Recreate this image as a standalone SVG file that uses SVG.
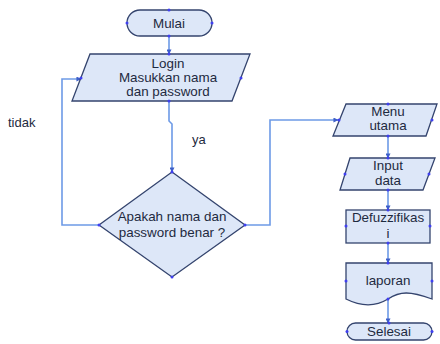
<svg xmlns="http://www.w3.org/2000/svg" width="440" height="344" viewBox="0 0 440 344">
<defs>
<style>
.shape{fill:#dde7f8;stroke:#34446e;stroke-width:1.3}
.conn{fill:none;stroke:#6d9ae6;stroke-width:1.6}
.t{font-family:"Liberation Sans",Arial,sans-serif;font-size:13.4px;fill:#1e2a40;text-anchor:middle}
.lbl{font-family:"Liberation Sans",Arial,sans-serif;font-size:13px;fill:#1e2a40}
.dot{fill:#3f3ff0}
</style>
<marker id="arr" viewBox="0 0 6 6" refX="5.5" refY="3" markerWidth="5" markerHeight="5" orient="auto" markerUnits="userSpaceOnUse">
<path d="M0,0 L6,3 L0,6 z" fill="#3d5fc8"/>
</marker>
</defs>
<rect width="440" height="344" fill="#ffffff"/>

<g id="connectors">
<path class="conn" d="M169,36 V54" marker-end="url(#arr)"/>
<path class="conn" d="M169,101 V121 L172,124 V172" marker-end="url(#arr)"/>
<path class="conn" d="M99,225 H62 V79 H81" marker-end="url(#arr)"/>
<path class="conn" d="M245,225 H270 V120 H338" marker-end="url(#arr)"/>
<path class="conn" d="M388,136 V158" marker-end="url(#arr)"/>
<path class="conn" d="M388,190 V210" marker-end="url(#arr)"/>
<path class="conn" d="M388,243 V263" marker-end="url(#arr)"/>
<path class="conn" d="M388,300 V323" marker-end="url(#arr)"/>
</g>

<g id="mulai">
<rect class="shape" x="127" y="10" width="85" height="26" rx="13"/>
<text class="t" x="169" y="27.5">Mulai</text>
<circle class="dot" cx="169" cy="10" r="1.5"/><circle class="dot" cx="169" cy="36" r="1.5"/>
<circle class="dot" cx="127" cy="23" r="1.5"/><circle class="dot" cx="212" cy="23" r="1.5"/>
</g>

<g id="login">
<polygon class="shape" points="90,54 250,54 232,101 72,101"/>
<text class="t" x="168" y="68">Login</text>
<text class="t" x="168" y="82">Masukkan nama</text>
<text class="t" x="168" y="96">dan password</text>
<circle class="dot" cx="169" cy="54" r="1.5"/><circle class="dot" cx="169" cy="101" r="1.5"/>
<circle class="dot" cx="81" cy="78" r="1.5"/><circle class="dot" cx="241" cy="78" r="1.5"/>
</g>

<g id="keputusan">
<polygon class="shape" points="172,172 245,225 172,277 99,225"/>
<text class="t" x="172" y="221">Apakah nama dan</text>
<text class="t" x="172" y="237">password benar ?</text>
<circle class="dot" cx="172" cy="172" r="1.5"/><circle class="dot" cx="172" cy="277" r="1.5"/>
<circle class="dot" cx="99" cy="225" r="1.5"/><circle class="dot" cx="245" cy="225" r="1.5"/>
</g>

<g id="label-tidak"><text class="lbl" x="8" y="127">tidak</text></g>
<g id="label-ya"><text class="lbl" x="192" y="144">ya</text></g>

<g id="menu">
<polygon class="shape" points="346,104 437,104 426,136 333,136"/>
<text class="t" x="388" y="116">Menu</text>
<text class="t" x="388" y="130">utama</text>
<circle class="dot" cx="388" cy="104" r="1.5"/><circle class="dot" cx="388" cy="136" r="1.5"/>
<circle class="dot" cx="339" cy="120" r="1.5"/><circle class="dot" cx="432" cy="120" r="1.5"/>
</g>

<g id="input">
<polygon class="shape" points="350,158 435,158 423,190 340,190"/>
<text class="t" x="388" y="170">Input</text>
<text class="t" x="388" y="185">data</text>
<circle class="dot" cx="388" cy="158" r="1.5"/><circle class="dot" cx="388" cy="190" r="1.5"/>
<circle class="dot" cx="345" cy="174" r="1.5"/><circle class="dot" cx="429" cy="174" r="1.5"/>
</g>

<g id="defuzzifikasi">
<rect class="shape" x="346" y="210" width="84" height="33"/>
<text class="t" x="388" y="222">Defuzzifikas</text>
<text class="t" x="388" y="238">i</text>
<circle class="dot" cx="388" cy="210" r="1.5"/><circle class="dot" cx="388" cy="243" r="1.5"/>
<circle class="dot" cx="346" cy="226" r="1.5"/><circle class="dot" cx="430" cy="226" r="1.5"/>
</g>

<g id="laporan">
<path class="shape" d="M346,263 H432 V299 C410,291 400,291 388,299 C375,307 362,307 346,299 Z"/>
<text class="t" x="388" y="285">laporan</text>
<circle class="dot" cx="388" cy="263" r="1.5"/><circle class="dot" cx="388" cy="299" r="1.5"/>
<circle class="dot" cx="346" cy="281" r="1.5"/><circle class="dot" cx="432" cy="281" r="1.5"/>
</g>

<g id="selesai">
<rect class="shape" x="347" y="323" width="85" height="17" rx="8.5"/>
<text class="t" x="389" y="336">Selesai</text>
<circle class="dot" cx="389" cy="323" r="1.5"/>
<circle class="dot" cx="347" cy="331.5" r="1.5"/><circle class="dot" cx="432" cy="331.5" r="1.5"/>
</g>
</svg>
